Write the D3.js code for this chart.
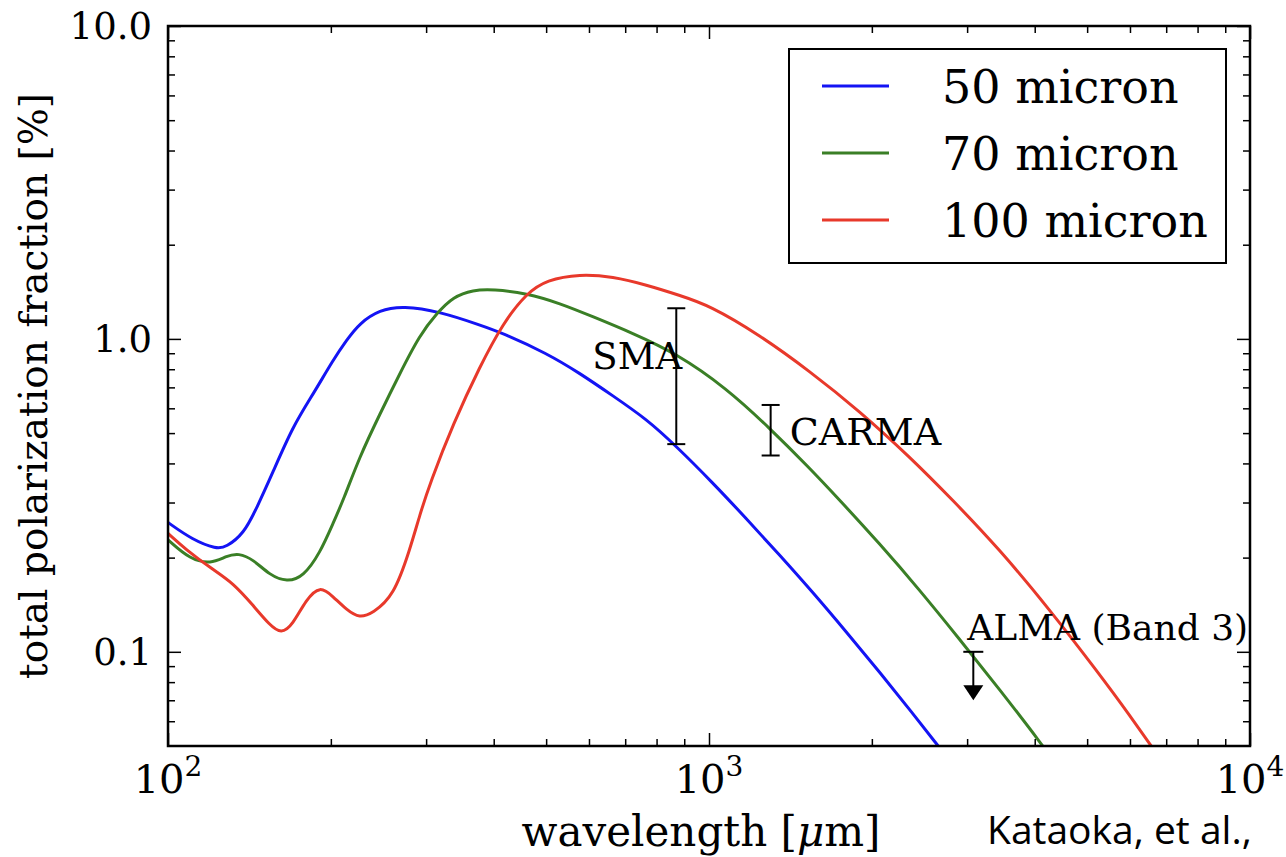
<!DOCTYPE html>
<html>
<head>
<meta charset="utf-8">
<script src="https://cdn.jsdelivr.net/npm/d3@7"></script>
<style>
  body { margin: 0; background: #fff; }
  svg text { font-family: "DejaVu Serif", serif; fill: #000; }
</style>
</head>
<body>
<svg id="chart"></svg>
<script>
const width = 1286;
const height = 857;
const margin = { top: 26, right: 36, bottom: 111, left: 168 };

// grain sizes shown in the legend
const seriesNames = ["50 micron", "70 micron", "100 micron"];
const seriesColors = ["#1414f4", "#3a7f26", "#e8392b"];

// wavelength [um] and polarization fraction [%] per grain size
const wave50 = [100, 111, 123, 128, 138, 146, 156, 170, 186, 202, 214, 226, 246, 272, 318, 377, 416, 501, 577, 664, 766, 870, 1016, 1171, 1350, 1555, 1792, 2065, 2379, 2642, 2901];
const pol50 = [0.259, 0.228, 0.213, 0.216, 0.238, 0.289, 0.372, 0.525, 0.671, 0.857, 0.993, 1.122, 1.238, 1.275, 1.222, 1.108, 1.043, 0.900, 0.777, 0.658, 0.555, 0.454, 0.347, 0.267, 0.204, 0.155, 0.116, 0.0863, 0.0636, 0.0505, 0.0408];

const wave70 = [100, 110, 120, 128, 135, 144, 154, 166, 178, 191, 202, 211, 226, 246, 268, 292, 314, 337, 366, 399, 460, 530, 610, 723, 870, 1076, 1293, 1533, 1742, 2065, 2448, 2901, 3439, 4129, 4535];
const pol70 = [0.228, 0.197, 0.191, 0.202, 0.207, 0.197, 0.176, 0.167, 0.174, 0.207, 0.258, 0.306, 0.420, 0.572, 0.773, 1.03, 1.208, 1.365, 1.434, 1.441, 1.400, 1.300, 1.178, 1.043, 0.899, 0.697, 0.520, 0.387, 0.306, 0.222, 0.158, 0.110, 0.0761, 0.0505, 0.0402];

const wave100 = [100, 108, 120, 132, 144, 154, 162, 170, 180, 191, 202, 214, 226, 239, 261, 280, 292, 305, 337, 377, 416, 460, 501, 577, 664, 766, 882, 1002, 1240, 1533, 1896, 2346, 2819, 3439, 4255, 5262, 6021, 6580, 7238];
const pol100 = [0.239, 0.212, 0.185, 0.166, 0.140, 0.122, 0.114, 0.122, 0.147, 0.163, 0.150, 0.136, 0.128, 0.133, 0.150, 0.212, 0.274, 0.346, 0.538, 0.816, 1.122, 1.400, 1.543, 1.613, 1.581, 1.488, 1.378, 1.280, 1.030, 0.790, 0.589, 0.421, 0.306, 0.213, 0.137, 0.0851, 0.0620, 0.0497, 0.0396];

// observations
const obsNames = ["SMA", "CARMA", "ALMA (Band 3)"];
const obsWave = [870, 1300, 3080];
const obsLow = [0.461, 0.424, null]; // null = upper limit only
const obsHigh = [1.253, 0.615, 0.1];

// axis ticks
const xMajor = [100, 1000, 10000];
const xExponents = ["2", "3", "4"];
const yMajor = [0.1, 1, 10];

const svg = d3.select("#chart").attr("width", width).attr("height", height);

const x = d3.scaleLog().domain([100, 10000]).range([margin.left, width - margin.right]);
const y = d3.scaleLog().domain([0.05, 10]).range([height - margin.bottom, margin.top]);

const x0 = margin.left, x1 = width - margin.right;
const y0 = margin.top, y1 = height - margin.bottom;

function minorTicks(lo, hi) {
  const out = [];
  for (let e = Math.floor(Math.log10(lo)); e <= Math.ceil(Math.log10(hi)); e++) {
    for (let k = 2; k <= 9; k++) {
      const v = k * Math.pow(10, e);
      if (v > lo * 1.0001 && v < hi * 0.9999) out.push(v);
    }
  }
  return out;
}
const xMinor = minorTicks(100, 10000);
const yMinor = minorTicks(0.05, 10);

// clip for the curves
svg.append("defs").append("clipPath").attr("id", "plot-clip")
  .append("rect").attr("x", x0).attr("y", y0).attr("width", x1 - x0).attr("height", y1 - y0);

const line = d3.line()
  .x(d => x(d[0]))
  .y(d => y(d[1]))
  .curve(d3.curveBasis);

const series = [
  d3.zip(wave50, pol50),
  d3.zip(wave70, pol70),
  d3.zip(wave100, pol100)
];

svg.append("g").attr("clip-path", "url(#plot-clip)")
  .selectAll("path")
  .data(series)
  .enter()
  .append("path")
  .attr("d", line)
  .attr("fill", "none")
  .attr("stroke", (d, i) => seriesColors[i])
  .attr("stroke-width", 3);

// ticks on all four sides, pointing in
function drawTicks(axis, tx, ty, size) {
  const g = svg.append("g").attr("transform", `translate(${tx},${ty})`)
    .call(axis.tickSize(-size).tickFormat(""));
  g.select(".domain").remove();
  g.selectAll(".tick line").attr("stroke", "#000").attr("stroke-width", 1.5);
  return g;
}
drawTicks(d3.axisBottom(x).tickValues(xMajor), 0, y1, 13);
drawTicks(d3.axisBottom(x).tickValues(xMinor), 0, y1, 7);
drawTicks(d3.axisTop(x).tickValues(xMajor), 0, y0, 13);
drawTicks(d3.axisTop(x).tickValues(xMinor), 0, y0, 7);
drawTicks(d3.axisLeft(y).tickValues(yMajor), x0, 0, 13);
drawTicks(d3.axisLeft(y).tickValues(yMinor), x0, 0, 7);
drawTicks(d3.axisRight(y).tickValues(yMajor), x1, 0, 13);
drawTicks(d3.axisRight(y).tickValues(yMinor), x1, 0, 7);

// frame
svg.append("rect")
  .attr("x", x0).attr("y", y0)
  .attr("width", x1 - x0).attr("height", y1 - y0)
  .attr("fill", "none").attr("stroke", "#000").attr("stroke-width", 2.5);

// y tick labels
svg.append("g").selectAll("text")
  .data(yMajor).enter().append("text")
  .attr("x", x0 - 16)
  .attr("y", d => y(d))
  .attr("dy", "0.36em")
  .attr("text-anchor", "end")
  .attr("font-size", 37)
  .text(d => d3.format(".1f")(d));

// x tick labels as 10^n
const xl = svg.append("g").selectAll("text")
  .data(xMajor).enter().append("text")
  .attr("x", d => x(d))
  .attr("y", y1 + 47)
  .attr("text-anchor", "middle")
  .attr("font-size", 40);
xl.append("tspan").text("10");
xl.append("tspan").attr("dy", -17).attr("font-size", 28).text((d, i) => xExponents[i]);

// axis titles
svg.append("text")
  .attr("x", 701)
  .attr("y", 846)
  .attr("text-anchor", "middle")
  .attr("font-size", 42)
  .html('wavelength [<tspan font-style="italic">μ</tspan>m]');

svg.append("text")
  .attr("transform", `translate(47,${(y0 + y1) / 2}) rotate(-90)`)
  .attr("text-anchor", "middle")
  .attr("font-size", 39)
  .style("font-family", "'DejaVu Serif', serif")
  .text("total polarization fraction [%]");

// observations
const obs = svg.append("g").attr("stroke", "#000").attr("stroke-width", 2);
obsWave.forEach((w, i) => {
  const cx = x(w);
  const top = y(obsHigh[i]);
  if (obsLow[i] !== null) {
    const bot = y(obsLow[i]);
    obs.append("line").attr("x1", cx).attr("x2", cx).attr("y1", top).attr("y2", bot);
    obs.append("line").attr("x1", cx - 9).attr("x2", cx + 9).attr("y1", top).attr("y2", top);
    obs.append("line").attr("x1", cx - 9).attr("x2", cx + 9).attr("y1", bot).attr("y2", bot);
  } else {
    const tip = y(obsHigh[i] * 0.7);
    obs.append("line").attr("x1", cx - 10).attr("x2", cx + 10).attr("y1", top).attr("y2", top);
    obs.append("line").attr("x1", cx).attr("x2", cx).attr("y1", top).attr("y2", tip - 12);
    obs.append("path")
      .attr("d", `M${cx - 10},${tip - 15}L${cx + 10},${tip - 15}L${cx},${tip}Z`)
      .attr("fill", "#000").attr("stroke", "none");
  }
});

// observation labels
svg.append("text").attr("x", x(obsWave[0]) + 6).attr("y", y(0.8))
  .attr("text-anchor", "end").attr("font-size", 37).text(obsNames[0]);
svg.append("text").attr("x", x(obsWave[1]) + 19).attr("y", y(0.458))
  .attr("font-size", 38).text(obsNames[1]);
svg.append("text").attr("x", x(obsWave[2]) - 6).attr("y", y(0.109))
  .attr("font-size", 36).text(obsNames[2]);

// legend
const legend = svg.append("g").attr("transform", "translate(789,49)");
legend.append("rect")
  .attr("width", 437).attr("height", 214)
  .attr("fill", "#fff").attr("stroke", "#000").attr("stroke-width", 2);
const items = legend.selectAll(".legend-item")
  .data(seriesNames).enter().append("g")
  .attr("class", "legend-item")
  .attr("transform", (d, i) => `translate(0,${37 + i * 67})`);
items.append("line")
  .attr("x1", 33).attr("x2", 100)
  .attr("stroke", (d, i) => seriesColors[i]).attr("stroke-width", 3);
items.append("text")
  .attr("x", 153).attr("y", 17)
  .attr("font-size", 46)
  .text(d => d);

// credit
svg.append("text")
  .attr("x", 987).attr("y", 844)
  .attr("font-size", 39)
  .style("font-family", "'Open Sans', sans-serif")
  .text("Kataoka, et al.,");
</script>
</body>
</html>
